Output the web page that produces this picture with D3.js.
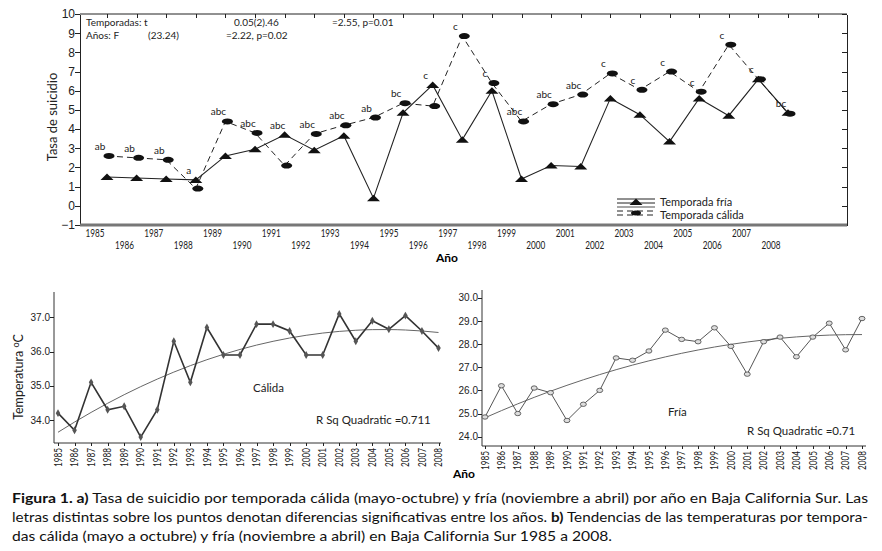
<!DOCTYPE html>
<html>
<head>
<meta charset="utf-8">
<script src="https://cdn.jsdelivr.net/npm/d3@7"></script>
<style>
body { margin: 0; background: #fff; }
svg { display: block; font-family: Lato, "DejaVu Sans", sans-serif; }
.axis path, .axis line { stroke: #222; shape-rendering: crispEdges; }
.axis text { fill: #222; }
</style>
</head>
<body>
<div id="svg-div"></div>
<script>
// data
var years = [1985,1986,1987,1988,1989,1990,1991,1992,1993,1994,1995,1996,
             1997,1998,1999,2000,2001,2002,2003,2004,2005,2006,2007,2008];
var suicideCold = [1.5,1.45,1.4,1.35,2.6,2.95,3.7,2.9,3.65,0.4,4.85,6.3,
                   3.45,6.0,1.4,2.1,2.05,5.6,4.75,3.35,5.6,4.7,6.6,4.85];
var suicideWarm = [2.6,2.5,2.4,0.9,4.4,3.8,2.1,3.75,4.2,4.6,5.35,5.2,
                   8.85,6.4,4.4,5.3,5.8,6.9,6.05,7.0,5.95,8.4,6.6,4.8];
var sigLetters = ["ab","ab","ab","a","abc","abc","abc","abc","abc","ab","bc","c",
                  "c","c","abc","abc","abc","c","c","c","c","c","c","bc"];
var tempWarm = [34.2,33.7,35.1,34.3,34.4,33.5,34.3,36.3,35.1,36.7,35.9,35.9,
                36.8,36.8,36.6,35.9,35.9,37.1,36.3,36.9,36.65,37.05,36.6,36.1];
var tempCold = [24.85,26.2,25.0,26.1,25.9,24.7,25.4,26.0,27.4,27.3,27.7,28.6,
                28.2,28.1,28.7,27.9,26.7,28.1,28.3,27.45,28.3,28.9,27.75,29.1];
var rateTicks = [-1,0,1,2,3,4,5,6,7,8,9,10];
var warmTicks = [34,35,36,37];
var coldTicks = [24,25,26,27,28,29,30];
var legendLabels = ["Temporada fría", "Temporada cálida"];
var statsLine1 = ["Temporadas: t", "0.05(2).46", "=2.55, p=0.01"];
var statsLine2 = ["Años: F", "(23.24)", "=2.22, p=0.02"];
var captionLines = [
    [["Figura 1. a)", true], [" Tasa de suicidio por temporada cálida (mayo-octubre) y fría (noviembre a abril) por año en Baja California Sur. Las", false]],
    [["letras distintas sobre los puntos denotan diferencias significativas entre los años. ", false], ["b)", true], [" Tendencias de las temperaturas por tempora-", false]],
    [["das cálida (mayo a octubre) y fría (noviembre a abril) en Baja California Sur 1985 a 2008.", false]]
];

// least squares quadratic, as in the "R Sq Quadratic" fits
function quadFit(xs, ys) {
    var s = [0,0,0,0,0], t = [0,0,0];
    xs.forEach((x, i) => {
        var u = x - 1996.5;
        for (var k = 0; k < 5; k++) s[k] += Math.pow(u, k);
        for (var k = 0; k < 3; k++) t[k] += ys[i] * Math.pow(u, k);
    });
    var m = [[s[0],s[1],s[2]],[s[1],s[2],s[3]],[s[2],s[3],s[4]]];
    var det = a => a[0][0]*(a[1][1]*a[2][2]-a[1][2]*a[2][1])
                 - a[0][1]*(a[1][0]*a[2][2]-a[1][2]*a[2][0])
                 + a[0][2]*(a[1][0]*a[2][1]-a[1][1]*a[2][0]);
    var d = det(m);
    var c = [0,1,2].map(j => det(m.map((row, r) => row.map((v, col) => col == j ? t[r] : v))) / d);
    return x => { var u = x - 1996.5; return c[0] + c[1]*u + c[2]*u*u; };
}

window.onload = () => {
    var width = 882, height = 551;

    var svg = d3.select("#svg-div")
        .append("svg")
        .attr("width", width)
        .attr("height", height);

    // ---------- a) suicide rate ----------
    var top = svg.append("g");
    var yTop = d3.scaleLinear().domain([-1, 10]).range([225, 14]);
    var xTop = d3.scaleLinear().domain([1985, 2008]).range([107, 788]);
    var xTopLabel = d3.scaleLinear().domain([1985, 2008]).range([95, 771]);

    top.append("g")
        .attr("class", "axis")
        .attr("transform", "translate(80,0)")
        .call(d3.axisLeft(yTop).tickValues(rateTicks).tickSize(5).tickSizeOuter(0).tickFormat(d3.format("d")))
        .call(g => g.selectAll("text").attr("font-size", 12).attr("x", -5));

    top.append("g")
        .attr("class", "axis")
        .attr("transform", "translate(847,0)")
        .call(d3.axisLeft(yTop).tickValues(rateTicks).tickSize(5).tickSizeOuter(0).tickFormat(""));

    top.append("g")
        .attr("class", "axis")
        .attr("transform", "translate(0,14)")
        .call(d3.axisBottom(xTop).tickValues(years.concat([2009])).tickSize(4).tickFormat(""))
        .call(g => g.select(".domain").remove());
    top.append("line")
        .attr("x1", 80).attr("x2", 847).attr("y1", 14).attr("y2", 14)
        .attr("stroke", "#222");

    top.append("line")
        .attr("x1", 80).attr("x2", 847).attr("y1", yTop(-1)).attr("y2", yTop(-1))
        .attr("stroke", "#777").attr("stroke-width", 3);

    top.selectAll(".year-label")
        .data(years)
        .enter()
        .append("text")
        .attr("class", "year-label")
        .attr("x", d => xTopLabel(d))
        .attr("y", (d, i) => i % 2 == 0 ? 237 : 249)
        .attr("text-anchor", "middle")
        .attr("font-size", 11)
        .attr("textLength", 19)
        .attr("lengthAdjust", "spacingAndGlyphs")
        .attr("fill", "#222")
        .text(d => d);

    top.append("text")
        .attr("x", 447).attr("y", 262)
        .attr("text-anchor", "middle")
        .attr("font-size", 12).attr("font-weight", "bold")
        .text("Año");

    top.append("text")
        .attr("transform", "translate(57,117) rotate(-90)")
        .attr("text-anchor", "middle")
        .attr("font-size", 13)
        .attr("fill", "#222")
        .text("Tasa de suicidio");

    var statX = [86, 234, 332];
    var statX2 = [86, 148, 226];
    top.selectAll(".stat1").data(statsLine1).enter().append("text")
        .attr("x", (d, i) => statX[i]).attr("y", 26)
        .attr("font-size", 10).attr("fill", "#222").text(d => d);
    top.selectAll(".stat2").data(statsLine2).enter().append("text")
        .attr("x", (d, i) => statX2[i]).attr("y", 39)
        .attr("font-size", 10).attr("fill", "#222").text(d => d);

    var rateLine = d3.line().x((d, i) => xTop(years[i])).y(d => yTop(d));
    top.append("path")
        .datum(suicideWarm)
        .attr("d", rateLine)
        .attr("fill", "none").attr("stroke", "#222").attr("stroke-width", 1)
        .attr("stroke-dasharray", "6,4");
    top.append("path")
        .datum(suicideCold)
        .attr("d", rateLine)
        .attr("fill", "none").attr("stroke", "#222").attr("stroke-width", 1.1);

    var tri = "M-6.5,3L0,-3.5L6.5,3Z";
    top.selectAll(".tri")
        .data(suicideCold).enter()
        .append("path")
        .attr("d", tri)
        .attr("transform", (d, i) => "translate(" + xTop(years[i]) + "," + yTop(d) + ")")
        .attr("fill", "#111");
    top.selectAll(".ell")
        .data(suicideWarm).enter()
        .append("ellipse")
        .attr("cx", (d, i) => xTop(years[i]) + 2)
        .attr("cy", d => yTop(d))
        .attr("rx", 5.5).attr("ry", 3)
        .attr("fill", "#111");

    top.selectAll(".sig")
        .data(sigLetters).enter()
        .append("text")
        .attr("x", (d, i) => xTop(years[i]) - 7)
        .attr("y", (d, i) => yTop(Math.max(suicideCold[i], suicideWarm[i])) - 6)
        .attr("text-anchor", "middle")
        .attr("font-size", 10)
        .attr("fill", "#222")
        .text(d => d);

    // legend
    var lg = top.append("g").attr("transform", "translate(617,0)");
    lg.append("line").attr("x1", 0).attr("x2", 38).attr("y1", 199).attr("y2", 199).attr("stroke", "#222");
    lg.append("line").attr("x1", 0).attr("x2", 38).attr("y1", 203).attr("y2", 203).attr("stroke", "#222");
    lg.append("path").attr("d", tri).attr("transform", "translate(19,202)").attr("fill", "#111");
    lg.append("line").attr("x1", 0).attr("x2", 38).attr("y1", 207).attr("y2", 207).attr("stroke", "#888").attr("stroke-width", 1.5);
    lg.append("line").attr("x1", 0).attr("x2", 38).attr("y1", 211).attr("y2", 211).attr("stroke", "#222").attr("stroke-dasharray", "6,4");
    lg.append("line").attr("x1", 0).attr("x2", 38).attr("y1", 215).attr("y2", 215).attr("stroke", "#222").attr("stroke-dasharray", "6,4");
    lg.append("ellipse").attr("cx", 19).attr("cy", 213).attr("rx", 5).attr("ry", 2.5).attr("fill", "#111");
    lg.selectAll(".lg-text").data(legendLabels).enter().append("text")
        .attr("x", 43).attr("y", (d, i) => 206 + i * 13)
        .attr("font-size", 11).attr("fill", "#222").text(d => d);

    // ---------- b) temperature panels ----------
    function tempPanel(cfg) {
        var g = svg.append("g");
        var x = d3.scaleLinear().domain([1985, 2008]).range(cfg.xRange);
        var y = d3.scaleLinear().domain(cfg.yDomain).range(cfg.yRange);

        g.append("line")
            .attr("x1", cfg.axisX).attr("x2", cfg.axisX)
            .attr("y1", cfg.axisTop).attr("y2", cfg.axisY)
            .attr("stroke", "#333");
        g.append("line")
            .attr("x1", cfg.axisX).attr("x2", cfg.axisRight)
            .attr("y1", cfg.axisY).attr("y2", cfg.axisY)
            .attr("stroke", "#333");

        g.append("g")
            .attr("class", "axis")
            .attr("transform", "translate(" + cfg.axisX + ",0)")
            .call(d3.axisLeft(y).tickValues(cfg.ticks).tickSize(4).tickFormat(d3.format(".1f")))
            .call(a => a.select(".domain").remove())
            .call(a => a.selectAll("text").attr("font-size", 10).attr("x", -4));

        g.append("g")
            .attr("class", "axis")
            .attr("transform", "translate(0," + cfg.axisY + ")")
            .call(d3.axisBottom(x).tickValues(years).tickSize(3).tickFormat(""))
            .call(a => a.select(".domain").remove());

        g.selectAll(".yr")
            .data(years).enter()
            .append("text")
            .attr("transform", d => "translate(" + x(d) + "," + (cfg.axisY + 5) + ") rotate(-90)")
            .attr("dy", "0.35em")
            .attr("text-anchor", "end")
            .attr("font-size", 10.5)
            .attr("textLength", 19)
            .attr("lengthAdjust", "spacingAndGlyphs")
            .attr("fill", "#222")
            .text(d => d);

        var fit = quadFit(years, cfg.values);
        g.append("path")
            .datum(years)
            .attr("d", d3.line().x(d => x(d)).y(d => y(fit(d))).curve(d3.curveMonotoneX))
            .attr("fill", "none").attr("stroke", "#666").attr("stroke-width", 1);

        g.append("path")
            .datum(cfg.values)
            .attr("d", d3.line().x((d, i) => x(years[i])).y(d => y(d)))
            .attr("fill", "none").attr("stroke", cfg.lineColor).attr("stroke-width", cfg.lineWidth);

        if (cfg.openMarkers) {
            g.selectAll(".pt").data(cfg.values).enter().append("ellipse")
                .attr("cx", (d, i) => x(years[i])).attr("cy", d => y(d))
                .attr("rx", 3).attr("ry", 2.2)
                .attr("fill", "#ddd").attr("stroke", "#444").attr("stroke-width", 0.8);
        } else {
            g.selectAll(".pt").data(cfg.values).enter().append("path")
                .attr("d", d3.symbol(d3.symbolDiamond, 18))
                .attr("transform", (d, i) => "translate(" + x(years[i]) + "," + y(d) + ")")
                .attr("fill", "#555");
        }

        g.append("text")
            .attr("x", cfg.nameX).attr("y", cfg.nameY)
            .attr("font-size", 11.5).attr("fill", "#222")
            .text(cfg.name);
        g.append("text")
            .attr("x", cfg.rsqX).attr("y", cfg.rsqY)
            .attr("font-size", 11.5).attr("fill", "#222")
            .text(cfg.rsq);
        return g;
    }

    tempPanel({
        values: tempWarm, ticks: warmTicks,
        xRange: [58, 438.5], yDomain: [34, 37], yRange: [420, 317.3],
        axisX: 54, axisY: 443, axisTop: 292, axisRight: 441,
        lineColor: "#333", lineWidth: 1.6, openMarkers: false,
        name: "Cálida", nameX: 253, nameY: 392,
        rsq: "R Sq Quadratic =0.711", rsqX: 316, rsqY: 424
    });

    tempPanel({
        values: tempCold, ticks: coldTicks,
        xRange: [485, 862], yDomain: [24, 30], yRange: [436.7, 297.7],
        axisX: 482, axisY: 446, axisTop: 290, axisRight: 866,
        lineColor: "#555", lineWidth: 1, openMarkers: true,
        name: "Fría", nameX: 668, nameY: 416,
        rsq: "R Sq Quadratic =0.71", rsqX: 747, rsqY: 435
    });

    svg.append("text")
        .attr("transform", "translate(23,377) rotate(-90)")
        .attr("text-anchor", "middle")
        .attr("font-size", 12.5)
        .attr("fill", "#222")
        .html("Temperatura <tspan dy='-4' font-size='9'>o</tspan><tspan dy='4'>C</tspan>");

    svg.append("text")
        .attr("x", 453).attr("y", 478)
        .attr("font-size", 12).attr("font-weight", "bold")
        .text("Año");

    // ---------- caption ----------
    var capLengths = [856, 856, 600];
    var cap = svg.selectAll(".caption")
        .data(captionLines).enter()
        .append("text")
        .attr("class", "caption")
        .attr("x", 12)
        .attr("y", (d, i) => 503 + i * 19)
        .attr("font-size", 13.5)
        .attr("fill", "#111")
        .attr("textLength", (d, i) => capLengths[i])
        .attr("lengthAdjust", "spacingAndGlyphs");
    cap.selectAll("tspan")
        .data(d => d).enter()
        .append("tspan")
        .attr("font-weight", d => d[1] ? "bold" : "normal")
        .text(d => d[0]);
};
</script>
</body>
</html>
